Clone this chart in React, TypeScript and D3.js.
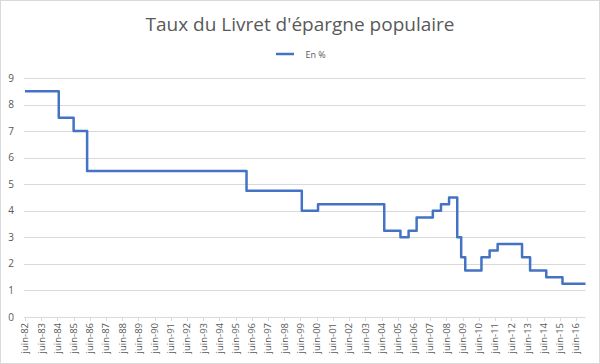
import React, { useEffect, useRef } from 'react';
import * as d3 from 'd3';

// dates where the rate changed (yyyy-mm) and the new rate, in %
const changeDates = [
    '1982-06', '1984-07', '1985-06', '1986-04', '1996-02', '1999-07', '2000-07',
    '2004-08', '2005-08', '2006-02', '2006-08', '2007-08', '2008-02', '2008-08',
    '2009-02', '2009-05', '2009-08', '2010-08', '2011-02', '2011-08', '2013-02',
    '2013-08', '2014-08', '2015-08', '2017-01',
];
const rates = [
    8.5, 7.5, 7, 5.5, 4.75, 4, 4.25,
    3.25, 3, 3.25, 3.75, 4, 4.25, 4.5,
    3, 2.25, 1.75, 2.25, 2.5, 2.75, 2.25,
    1.75, 1.5, 1.25, 1.25,
];
const tickYears = [
    1982, 1983, 1984, 1985, 1986, 1987, 1988, 1989, 1990, 1991, 1992, 1993,
    1994, 1995, 1996, 1997, 1998, 1999, 2000, 2001, 2002, 2003, 2004, 2005,
    2006, 2007, 2008, 2009, 2010, 2011, 2012, 2013, 2014, 2015, 2016,
];
const yTicks = [0, 1, 2, 3, 4, 5, 6, 7, 8, 9];

const title = "Taux du Livret d'épargne populaire";
const seriesName = 'En %';

const App = () => {
    const svgRef = useRef<SVGSVGElement>(null);

    useEffect(() => {
        const width = 600;
        const height = 364;
        const left = 24;
        const right = 585.5;
        const font = "'Open Sans', sans-serif";
        const textColor = '#595959';
        const gridColor = '#d9d9d9';
        const lineColor = '#4472c4';

        const parse = d3.timeParse('%Y-%m');
        const data = changeDates.map((d, i) => ({ date: parse(d) as Date, value: rates[i] }));

        const x = d3.scaleTime()
            .domain([parse('1982-06') as Date, parse('2017-01') as Date])
            .range([left + 1, right]);
        const y = d3.scaleLinear().domain([0, 9]).range([317, 78]);

        const svg = d3.select(svgRef.current);
        svg.selectAll('*').remove();
        svg.attr('width', width).attr('height', height);

        svg.append('rect')
            .attr('x', 0.5).attr('y', 0.5)
            .attr('width', width - 1).attr('height', height - 1)
            .attr('fill', 'white')
            .attr('stroke', gridColor);

        svg.append('text')
            .attr('x', width / 2).attr('y', 31)
            .attr('text-anchor', 'middle')
            .style('font-family', font)
            .style('font-size', '19px')
            .style('fill', textColor)
            .text(title);

        // legend
        svg.append('line')
            .attr('x1', 276).attr('x2', 294).attr('y1', 54).attr('y2', 54)
            .attr('stroke', lineColor).attr('stroke-width', 2.5);
        svg.append('text')
            .attr('x', 305.5).attr('y', 57.5)
            .style('font-family', font)
            .style('font-size', '9px')
            .style('fill', textColor)
            .text(seriesName);

        // y grid and labels
        svg.append('g').selectAll('line')
            .data(yTicks)
            .join('line')
            .attr('x1', left).attr('x2', right)
            .attr('y1', d => Math.round(y(d)) + 0.5).attr('y2', d => Math.round(y(d)) + 0.5)
            .attr('stroke', gridColor);
        svg.append('g').selectAll('text')
            .data(yTicks)
            .join('text')
            .attr('x', 14).attr('y', d => y(d))
            .attr('dy', '0.35em')
            .attr('text-anchor', 'end')
            .style('font-family', font)
            .style('font-size', '10px')
            .style('fill', textColor)
            .text(d => d);

        // x ticks and labels
        const tickDates = tickYears.map(yr => new Date(yr, 5, 1));
        svg.append('g').selectAll('line')
            .data(tickDates)
            .join('line')
            .attr('x1', d => Math.round(x(d)) + 0.5).attr('x2', d => Math.round(x(d)) + 0.5)
            .attr('y1', 317).attr('y2', 321)
            .attr('stroke', gridColor);
        svg.append('g').selectAll('text')
            .data(tickDates)
            .join('text')
            .attr('transform', d => `translate(${x(d)},323) rotate(-90)`)
            .attr('dy', '0.35em')
            .attr('text-anchor', 'end')
            .style('font-family', font)
            .style('font-size', '9.5px')
            .style('fill', textColor)
            .text(d => `juin-${d3.timeFormat('%y')(d)}`);

        const line = d3.line<{ date: Date; value: number }>()
            .x(d => x(d.date))
            .y(d => y(d.value))
            .curve(d3.curveStepAfter);

        svg.append('path')
            .datum(data)
            .attr('d', line)
            .attr('fill', 'none')
            .attr('stroke', lineColor)
            .attr('stroke-width', 2.5)
            .attr('stroke-linejoin', 'round');
    }, []);

    return <svg ref={svgRef} style={{ position: 'absolute', left: 0, top: 0 }}></svg>;
};

export default App;
